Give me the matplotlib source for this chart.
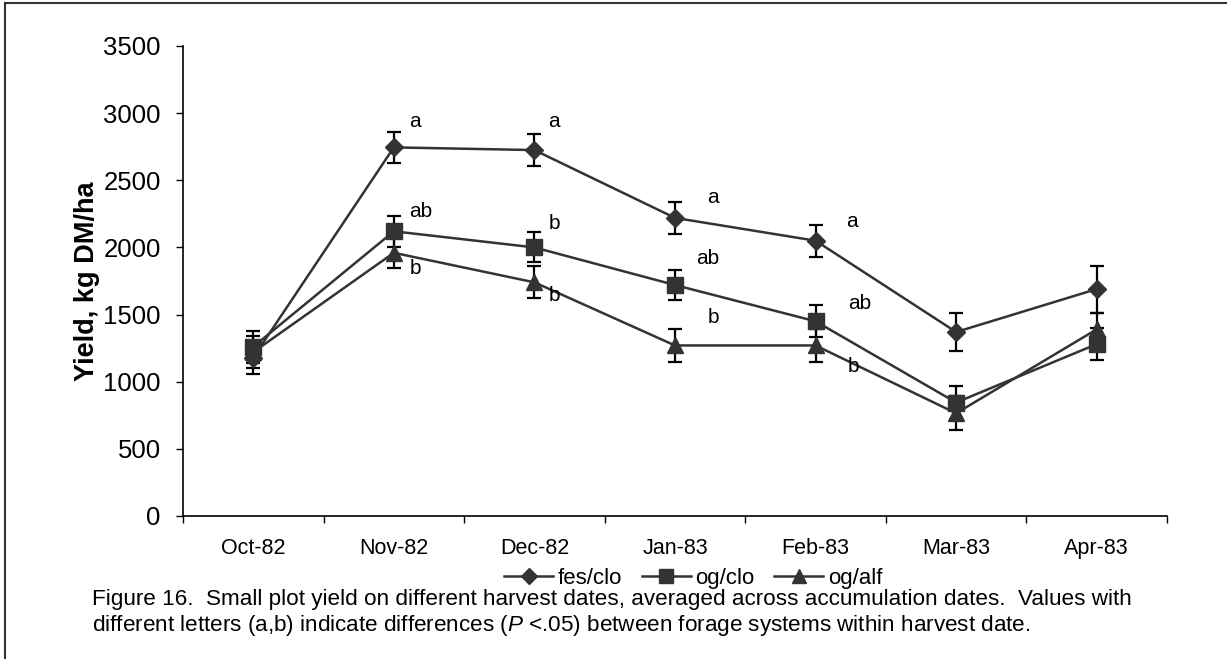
import matplotlib
matplotlib.use('Agg')
import matplotlib.pyplot as plt
from matplotlib.lines import Line2D
import numpy as np

plt.rcParams['font.family'] = ['Liberation Sans', 'DejaVu Sans']
plt.rcParams['mathtext.fontset'] = 'custom'
plt.rcParams['mathtext.rm'] = 'Liberation Sans'
plt.rcParams['mathtext.it'] = 'Liberation Sans:italic'

dates = ['Oct-82', 'Nov-82', 'Dec-82', 'Jan-83', 'Feb-83', 'Mar-83', 'Apr-83']
series = ['fes/clo', 'og/clo', 'og/alf']

fes_clo = [1180, 2745, 2725, 2220, 2050, 1370, 1690]
og_clo = [1260, 2120, 2000, 1720, 1450, 845, 1280]
og_alf = [1220, 1960, 1740, 1270, 1270, 765, 1390]

fes_clo_err = [120, 118, 120, 120, 118, 140, 175]
og_clo_err = [120, 115, 112, 115, 120, 120, 120]
og_alf_err = [120, 115, 120, 120, 120, 125, 120]

# significance letters and where they sit (category index, yield)
letters = ['a', 'ab', 'b', 'a', 'b', 'b', 'a', 'ab', 'b', 'a', 'ab', 'b']
letter_x = [1.11, 1.11, 1.11, 2.10, 2.10, 2.10, 3.23, 3.15, 3.23, 4.22, 4.23, 4.23]
letter_y = [2940, 2265, 1845, 2935, 2180, 1645, 2375, 1920, 1480, 2190, 1580, 1115]

caption1 = ('Figure 16.  Small plot yield on different harvest dates, averaged across '
            'accumulation dates.  Values with')
caption2 = ('different letters (a,b) indicate differences ($\\mathit{P}$ <.05) between '
            'forage systems within harvest date.')

line_col = '#333333'

fig = plt.figure(figsize=(12.27, 6.59), dpi=100)
ax = fig.add_axes([0.1491, 0.2170, 0.8020, 0.7132])

x = np.arange(len(dates))
markers = ['D', 's', '^']
msizes = [9, 11, 11]
for vals, errs, m, ms, lab in zip([fes_clo, og_clo, og_alf],
                                  [fes_clo_err, og_clo_err, og_alf_err],
                                  markers, msizes, series):
    ax.errorbar(x, vals, yerr=errs, fmt='none', ecolor='black', elinewidth=1.6,
                capsize=5, capthick=1.6, zorder=2)
    ax.plot(x, vals, color=line_col, lw=1.8, marker=m, markersize=ms,
            markerfacecolor=line_col, markeredgecolor=line_col, label=lab, zorder=3)

for t, lx, ly in zip(letters, letter_x, letter_y):
    ax.text(lx, ly, t, ha='left', va='center', fontsize=15, color='black')

ax.set_xlim(-0.5, len(dates) - 0.5)
ax.set_ylim(0, 3500)
ax.set_yticks(np.arange(0, 3501, 500))
ax.tick_params(axis='y', labelsize=18.5, length=5, width=1, pad=11, direction='out')
ax.set_xticks(np.arange(-0.5, len(dates)), [''] * (len(dates) + 1))
ax.set_xticks(x, dates, minor=True)
ax.tick_params(axis='x', which='major', length=5, width=1, direction='out')
ax.tick_params(axis='x', which='minor', length=0, labelsize=15.5, pad=16)
for s in ['top', 'right']:
    ax.spines[s].set_visible(False)
for s in ['left', 'bottom']:
    ax.spines[s].set_linewidth(1.2)

ax.set_ylabel('Yield, kg DM/ha', fontsize=19.5, fontweight='bold')
ax.yaxis.set_label_coords(-0.084, 0.5)

handles = [Line2D([], [], color=line_col, lw=1.8, marker=m, markersize=ms * 0.9,
                  markerfacecolor=line_col, markeredgecolor=line_col)
           for m, ms in zip(markers, msizes)]
fig.legend(handles, series, loc='center', bbox_to_anchor=(0.565, 0.1229), ncol=3,
           frameon=False, fontsize=16, handlelength=2.2, handletextpad=0.2,
           columnspacing=0.9, borderpad=0.1)

fig.text(92 / 1227, 1 - 600 / 659, caption1, fontsize=16.2, ha='left', va='center')
fig.text(92 / 1227, 1 - 626 / 659, caption2, fontsize=16.2, ha='left', va='center')

# outer frame (left and top edges visible)
fig.add_artist(Line2D([5 / 1227, 5 / 1227], [0, 1 - 3 / 659], transform=fig.transFigure,
                      color='#333333', lw=1.5))
fig.add_artist(Line2D([5 / 1227, 1], [1 - 3 / 659, 1 - 3 / 659], transform=fig.transFigure,
                      color='#333333', lw=1.5))

fig.savefig('out.png', dpi=100)
